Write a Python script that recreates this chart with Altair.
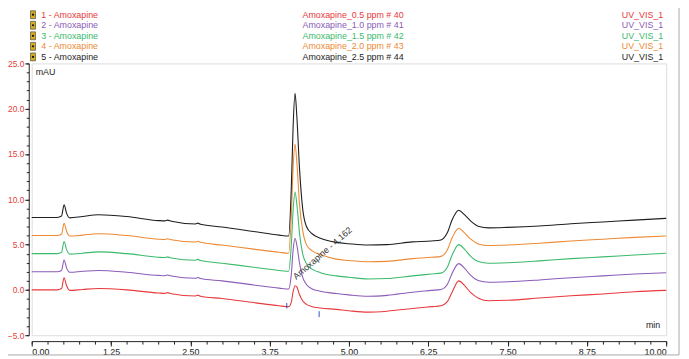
import altair as alt
import pandas as pd

# ---------------- data ----------------
times = [0.00, 0.40, 0.47, 0.51, 0.55, 0.60, 0.80, 1.05, 1.50, 2.00, 2.10, 2.14, 2.20,
         2.58, 2.62, 2.66, 3.00, 3.50, 3.90, 4.05, 4.09, 4.12, 4.15, 4.18, 4.22, 4.27,
         4.33, 4.42, 4.55, 4.80, 5.00, 5.30, 5.60, 6.00, 6.30, 6.45, 6.55, 6.63, 6.73,
         6.82, 6.92, 7.05, 7.20, 7.50, 8.00, 8.50, 9.00, 9.50, 10.00]

red_vals = [0.00, 0.00, 0.15, 1.35, 0.45, -0.05, 0.05, 0.15, 0.00, -0.35, -0.38, -0.30, -0.42,
            -0.67, -0.58, -0.70, -0.95, -1.40, -1.75, -1.85, -1.40, -0.20, 0.45, 0.30, -0.50, -1.20,
            -1.60, -1.85, -2.00, -2.15, -2.30, -2.45, -2.35, -2.05, -1.85, -1.75, -1.30, -0.20, 1.00,
            0.50, -0.30, -0.95, -1.20, -1.15, -0.90, -0.65, -0.45, -0.20, -0.05]

purple_vals = [2.00, 2.00, 2.15, 3.30, 2.40, 1.95, 2.05, 2.15, 1.95, 1.60, 1.57, 1.65, 1.53,
               1.28, 1.37, 1.25, 1.00, 0.55, 0.20, 0.10, 1.60, 4.40, 5.70, 4.90, 3.00, 1.40,
               0.60, 0.10, -0.15, -0.40, -0.55, -0.70, -0.60, -0.25, -0.05, 0.05, 0.60, 1.90, 2.90,
               2.40, 1.60, 1.00, 0.85, 0.90, 1.10, 1.35, 1.55, 1.75, 1.90]

green_vals = [4.00, 4.00, 4.15, 5.35, 4.45, 3.95, 4.05, 4.20, 4.00, 3.60, 3.57, 3.65, 3.53,
              3.28, 3.37, 3.25, 2.95, 2.50, 2.15, 2.05, 4.80, 8.80, 10.80, 9.40, 6.30, 4.00,
              2.90, 2.30, 1.90, 1.55, 1.40, 1.20, 1.25, 1.55, 1.75, 1.85, 2.50, 3.90, 5.00,
              4.50, 3.70, 3.10, 2.95, 3.00, 3.20, 3.45, 3.65, 3.85, 4.05]

orange_vals = [6.00, 6.00, 6.15, 7.35, 6.45, 5.95, 6.05, 6.20, 6.00, 5.60, 5.57, 5.65, 5.53,
               5.28, 5.37, 5.25, 4.95, 4.50, 4.15, 4.05, 8.00, 13.50, 16.10, 14.00, 9.50, 6.60,
               5.00, 4.30, 3.90, 3.40, 3.25, 3.10, 3.15, 3.45, 3.60, 3.70, 4.40, 5.80, 6.80,
               6.30, 5.60, 5.05, 4.90, 4.95, 5.15, 5.40, 5.60, 5.80, 5.95]

black_vals = [8.00, 8.00, 8.15, 9.40, 8.45, 7.95, 8.10, 8.30, 8.10, 7.65, 7.62, 7.70, 7.58,
              7.28, 7.37, 7.25, 6.95, 6.45, 6.05, 5.95, 11.00, 18.00, 21.70, 19.00, 13.50, 9.00,
              7.00, 6.20, 5.70, 5.25, 5.10, 4.95, 5.00, 5.30, 5.40, 5.50, 6.30, 7.80, 8.80,
              8.30, 7.60, 7.00, 6.85, 6.90, 7.05, 7.30, 7.50, 7.70, 7.90]

series_names = ["1 - Amoxapine", "2 - Amoxapine", "3 - Amoxapine", "4 - Amoxapine", "5 - Amoxapine"]
sample_names = ["Amoxapine_0.5 ppm # 40", "Amoxapine_1.0 ppm # 41", "Amoxapine_1.5 ppm # 42",
                "Amoxapine_2.0 ppm # 43", "Amoxapine_2.5 ppm # 44"]
channel_names = ["UV_VIS_1", "UV_VIS_1", "UV_VIS_1", "UV_VIS_1", "UV_VIS_1"]
series_colors = ["#e8393c", "#8b5cb8", "#3cba6c", "#ee8a35", "#1e1e1e"]

x_ticks = [0.00, 1.25, 2.50, 3.75, 5.00, 6.25, 7.50, 8.75, 10.00]
x_minor = [i * 0.25 for i in range(41)]
y_ticks = [-5.0, 0.0, 5.0, 10.0, 15.0, 20.0, 25.0]
y_minor = list(range(-5, 26))

peak_label = ["Amoxapine - 4.162"]
peak_label_t = [4.17]
peak_label_v = [1.1]

marker_t = [4.02, 4.53]
marker_lo = [-2.05, -3.0]
marker_hi = [-1.45, -2.35]

# ---------------- tables ----------------
all_vals = [red_vals, purple_vals, green_vals, orange_vals, black_vals]
rows = []
for i, (name, vals) in enumerate(zip(series_names, all_vals)):
    for t, v in zip(times, vals):
        rows.append({"t": t, "v": v, "s": name, "k": i})
df = pd.DataFrame(rows)

legend_df = pd.DataFrame({
    "idx": list(range(5)),
    "name": series_names,
    "sample": sample_names,
    "chan": channel_names,
    "col": series_colors,
})

FONT = "Liberation Sans"

x_enc = alt.X("t:Q", scale=alt.Scale(domain=[0, 10], nice=False, zero=False),
              axis=alt.Axis(orient="bottom", values=x_ticks, format=".2f", title=None, grid=False,
                            offset=6, tickSize=5, labelFontSize=9, labelColor="#222",
                            domainColor="#222", tickColor="#222", labelPadding=2, labelFont=FONT))
y_enc = alt.Y("v:Q", scale=alt.Scale(domain=[-5, 25], nice=False, zero=False),
              axis=alt.Axis(orient="left", values=y_ticks, format=".1f", title=None, grid=False,
                            offset=3, tickSize=4, labelFontSize=8.5, labelColor="#e5403a",
                            domainColor="#222", tickColor="#222", labelPadding=1, labelFont=FONT))

lines = alt.Chart(df).mark_line(strokeWidth=1.1, interpolate="monotone").encode(
    x=x_enc,
    y=y_enc,
    color=alt.Color("s:N", scale=alt.Scale(domain=series_names, range=series_colors), legend=None),
    order=alt.Order("k:Q", sort="descending"),
)

minor_axes = alt.Chart(df).mark_point(opacity=0).encode(
    x=alt.X("t:Q", axis=alt.Axis(orient="bottom", values=x_minor, labels=False, tickSize=3,
                                 domain=False, offset=6, title=None, grid=False, tickColor="#222")),
    y=alt.Y("v:Q", axis=alt.Axis(orient="left", values=y_minor, labels=False, tickSize=2.5,
                                 domain=False, offset=3, title=None, grid=False, tickColor="#222")),
)

markers = alt.Chart(pd.DataFrame({"t": marker_t, "lo": marker_lo, "hi": marker_hi})).mark_rule(
    color="#3050c8", strokeWidth=1).encode(
    x=alt.X("t:Q", axis=None), y=alt.Y("lo:Q", axis=None), y2="hi:Q")

annot = alt.Chart(pd.DataFrame({"t": peak_label_t, "v": peak_label_v, "label": peak_label})).mark_text(
    angle=319, align="left", baseline="alphabetic", fontSize=9, color="#333", font=FONT).encode(
    x=alt.X("t:Q", axis=None), y=alt.Y("v:Q", axis=None), text="label:N")

units_mau = alt.Chart(pd.DataFrame({"u": ["mAU"]})).mark_text(
    align="left", baseline="middle", fontSize=9, color="#222", font=FONT).encode(
    x=alt.value(4), y=alt.value(9), text="u:N")
units_min = alt.Chart(pd.DataFrame({"u": ["min"]})).mark_text(
    align="right", baseline="middle", fontSize=9, color="#222", font=FONT).encode(
    x=alt.value(636), y=alt.value(265), text="u:N")

leg_base = alt.Chart(legend_df).transform_calculate(
    py="-49.3 + 10.67 * datum.idx",
    py0="-53.3 + 10.67 * datum.idx",
    py1="-45.3 + 10.67 * datum.idx",
)
leg_name = leg_base.mark_text(align="left", baseline="middle", fontSize=9, font=FONT).encode(
    x=alt.value(9.7), y=alt.Y("py:Q", scale=None, axis=None), text="name:N",
    color=alt.Color("col:N", scale=None, legend=None))
leg_sample = leg_base.mark_text(align="left", baseline="middle", fontSize=9, font=FONT).encode(
    x=alt.value(274), y=alt.Y("py:Q", scale=None, axis=None), text="sample:N",
    color=alt.Color("col:N", scale=None, legend=None))
leg_chan = leg_base.mark_text(align="right", baseline="middle", fontSize=9, font=FONT).encode(
    x=alt.value(639), y=alt.Y("py:Q", scale=None, axis=None), text="chan:N",
    color=alt.Color("col:N", scale=None, legend=None))
leg_icon = leg_base.mark_rect(color="#d9ad1c", stroke="#333", strokeWidth=0.6).encode(
    x=alt.value(-1.2), x2=alt.value(3.8),
    y=alt.Y("py0:Q", scale=None, axis=None), y2="py1:Q")
leg_dot = leg_base.mark_point(shape="circle", filled=True, size=5, color="#111", opacity=1).encode(
    x=alt.value(1.3), y=alt.Y("py:Q", scale=None, axis=None))

border = alt.Chart(pd.DataFrame({"a": [0]})).mark_rect(
    fillOpacity=0, stroke="#a8a8a8", strokeWidth=1).encode(
    x=alt.value(-30), x2=alt.value(655), y=alt.value(-60), y2=alt.value(295))

chart = alt.layer(
    border, minor_axes, lines, markers, annot, units_mau, units_min,
    leg_icon, leg_dot, leg_name, leg_sample, leg_chan,
).resolve_axis(x="independent", y="independent").resolve_scale(color="independent").properties(
    width=642, height=275,
    autosize=alt.AutoSizeParams(type="none"),
    padding={"left": 24, "top": 54, "right": 15, "bottom": 22},
).configure_view(stroke="#222", strokeWidth=1).configure(font=FONT)

chart.save("out.html", embed_options={"renderer": "svg", "actions": False})
